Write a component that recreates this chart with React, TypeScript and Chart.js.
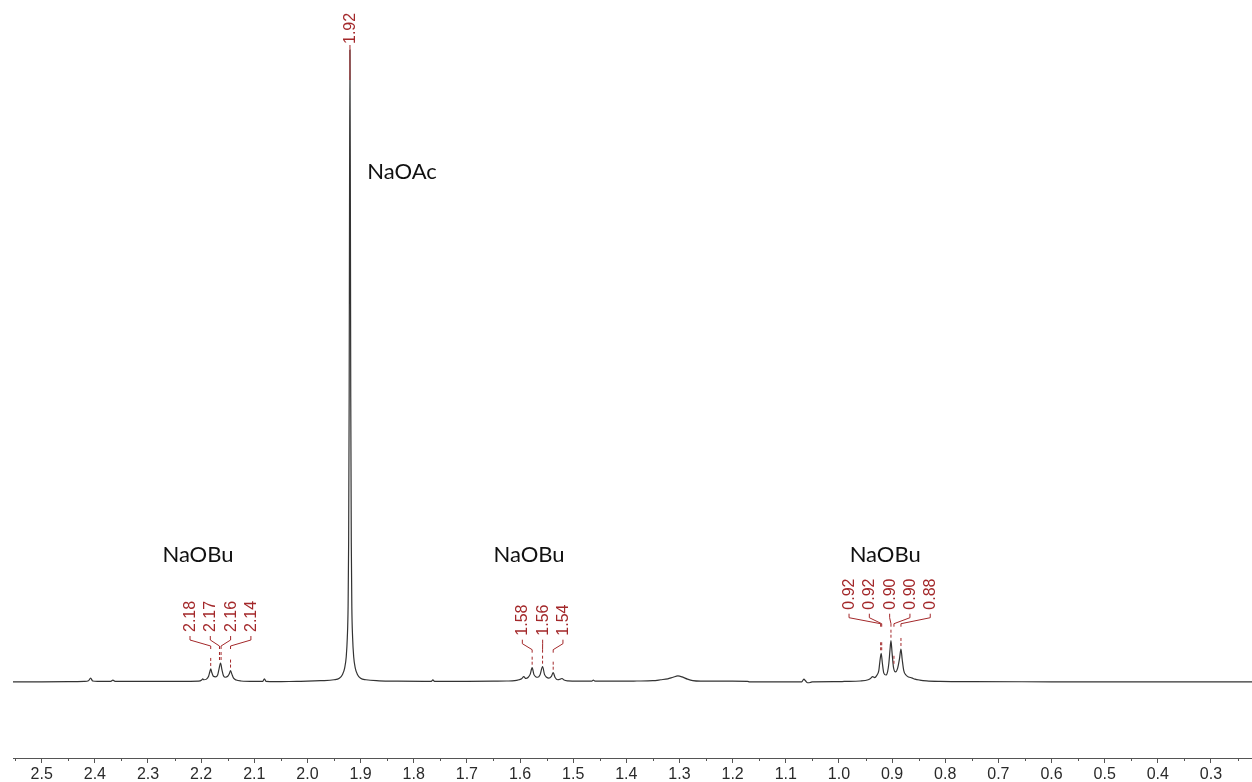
import React, { useEffect, useRef } from "react";
import { Chart, registerables } from "chart.js";

Chart.register(...registerables);

// Chemical shift (ppm) and relative intensity of the 1H NMR trace (main peak = 100)
const SHIFT_PPM = [
  2.56, 2.5, 2.45, 2.42, 2.412, 2.408, 2.404, 2.395, 2.37, 2.366, 2.362, 2.3, 2.25, 2.22,
  2.205, 2.199, 2.197, 2.195, 2.19, 2.186, 2.184, 2.182, 2.18, 2.177, 2.173, 2.169, 2.1665, 2.1635,
  2.161, 2.158, 2.154, 2.15, 2.147, 2.1447, 2.142, 2.139, 2.134, 2.125, 2.1, 2.084, 2.081, 2.078,
  2.06, 2.02, 2.0, 1.975,
  1.95, 1.94, 1.934, 1.93, 1.927, 1.925, 1.9235, 1.9225, 1.9215, 1.9208, 1.92, 1.9192, 1.9185,
  1.9175, 1.9165, 1.915, 1.913, 1.91, 1.906, 1.9, 1.89, 1.865, 1.83, 1.78, 1.767, 1.764, 1.761,
  1.7, 1.65, 1.625,
  1.61, 1.602, 1.597, 1.593, 1.589, 1.585, 1.581, 1.5772, 1.574, 1.57, 1.567, 1.5625, 1.5576,
  1.554, 1.55, 1.546, 1.541, 1.5376, 1.534, 1.529, 1.524, 1.521, 1.517, 1.51, 1.49, 1.465, 1.462,
  1.459, 1.42, 1.38,
  1.35, 1.335, 1.322, 1.312, 1.303, 1.295, 1.285, 1.275, 1.26, 1.2, 1.172, 1.168, 1.12, 1.07,
  1.066, 1.063, 1.059, 1.054, 1.05, 1.0, 0.99, 0.96,
  0.945, 0.94, 0.9366, 0.933, 0.929, 0.925, 0.923, 0.9205, 0.9183, 0.9155, 0.9115, 0.9085, 0.906,
  0.904, 0.9021, 0.9, 0.8975, 0.8935, 0.8895, 0.886, 0.8833, 0.881, 0.878, 0.874, 0.869, 0.863,
  0.857, 0.848, 0.835, 0.81, 0.75, 0.6, 0.4, 0.22,
];
const INTENSITY = [
  0.0, 0.02, 0.05, 0.1, 0.2, 0.6, 0.15, 0.08, 0.1, 0.3, 0.1, 0.08, 0.1, 0.1,
  0.12, 0.3, 0.5, 0.35, 0.45, 0.9, 1.5, 2.06, 1.5, 0.9, 0.8, 1.1, 2.0, 3.0,
  2.0, 1.0, 0.75, 0.9, 1.3, 1.8, 1.2, 0.6, 0.3, 0.15, 0.08, 0.1, 0.5, 0.1,
  0.05, 0.1, 0.12, 0.2,
  0.35, 0.6, 1.2, 2.2, 4, 7, 12, 22, 45, 75, 100, 75, 45,
  22, 12, 7, 4, 2.2, 1.2, 0.6, 0.35, 0.18, 0.12, 0.1, 0.1, 0.35, 0.1,
  0.1, 0.12, 0.15,
  0.2, 0.35, 0.5, 0.85, 0.55, 0.7, 1.2, 2.26, 1.2, 0.8, 0.75, 1.1, 2.42,
  1.2, 0.75, 0.6, 0.9, 1.47, 0.7, 0.35, 0.45, 0.55, 0.3, 0.18, 0.12, 0.12, 0.3,
  0.12, 0.12, 0.15,
  0.2, 0.35, 0.5, 0.75, 0.95, 0.8, 0.45, 0.2, 0.12, 0.12, 0.1, 0.0, 0.0, 0.02,
  0.45, 0.2, -0.12, -0.08, 0.02, 0.05, 0.08, 0.15,
  0.35, 0.6, 0.85, 0.7, 1.0, 1.8, 3.2, 4.54, 3.0, 1.4, 1.1, 1.6, 3.0,
  5.0, 6.53, 4.6, 2.4, 1.6, 2.2, 3.7, 5.22, 3.6, 1.8, 1.1, 0.8, 0.65,
  0.45, 0.3, 0.18, 0.1, 0.05, 0.03, 0.02, 0.0,
];

// Peak picks (ppm), one list per multiplet
const PICKS_NAOBU_1 = [2.182, 2.1655, 2.1625, 2.1447];
const PICKS_NAOAC = [1.92];
const PICKS_NAOBU_2 = [1.5772, 1.5576, 1.5376];
const PICKS_NAOBU_3 = [0.9215, 0.9195, 0.9021, 0.8965, 0.8833];

// Compound annotations: text, anchor shift (ppm), anchor intensity
const COMPOUND_TEXT = ["NaOBu", "NaOAc", "NaOBu", "NaOBu"];
const COMPOUND_PPM = [2.206, 1.822, 1.583, 0.913];
const COMPOUND_INT = [20.1, 80.7, 20.1, 20.1];

// Axis ticks (ppm)
const MAJOR_TICKS = [2.5, 2.4, 2.3, 2.2, 2.1, 2.0, 1.9, 1.8, 1.7, 1.6, 1.5, 1.4, 1.3, 1.2, 1.1, 1.0, 0.9, 0.8, 0.7, 0.6, 0.5, 0.4, 0.3];
const MINOR_TICKS = [2.55, 2.45, 2.35, 2.25, 2.15, 2.05, 1.95, 1.85, 1.75, 1.65, 1.55, 1.45, 1.35, 1.25, 1.15, 1.05, 0.95, 0.85, 0.75, 0.65, 0.55, 0.45, 0.35, 0.25];

const X_MIN = 0.2228;
const X_MAX = 2.554;
const Y_MIN = -12.03;
const Y_MAX = 107.91;

const RED = "#a3282a";

function peakTop(ppm: number): number {
  let best = -Infinity;
  for (let i = 0; i < SHIFT_PPM.length; i++) {
    if (Math.abs(SHIFT_PPM[i] - ppm) <= 0.0026 && INTENSITY[i] > best) best = INTENSITY[i];
  }
  if (best === -Infinity) best = 0;
  return best;
}

const annotationPlugin = {
  id: "nmrAnnotations",
  afterDatasetsDraw(chart: any) {
    const { ctx, scales } = chart;
    const xs = scales.x;
    const ys = scales.y;
    const area = chart.chartArea;
    ctx.save();
    // minor ticks
    ctx.strokeStyle = "#555";
    ctx.lineWidth = 1;
    MINOR_TICKS.forEach((v) => {
      const px = Math.round(xs.getPixelForValue(v)) + 0.5;
      ctx.beginPath();
      ctx.moveTo(px, area.bottom);
      ctx.lineTo(px, area.bottom + 3);
      ctx.stroke();
    });

    // peak picks
    const groups = [PICKS_NAOBU_1, PICKS_NAOAC, PICKS_NAOBU_2, PICKS_NAOBU_3];
    ctx.font = '16px "Liberation Sans", Arial, sans-serif';
    ctx.fillStyle = RED;
    ctx.strokeStyle = RED;
    groups.forEach((picks) => {
      const pxs = picks.map((p) => xs.getPixelForValue(p));
      const tops = picks.map((p) => ys.getPixelForValue(peakTop(p)));
      const minTop = Math.min(...tops);
      const n = picks.length;
      const center = pxs.reduce((a, b) => a + b, 0) / n;
      const spacing = 20.3;
      if (n === 1) {
        const yb = tops[0] - 5;
        const lx = pxs[0];
        ctx.save();
        ctx.translate(lx + 0.5, yb - 1);
        ctx.rotate(-Math.PI / 2);
        ctx.textAlign = "left";
        ctx.textBaseline = "middle";
        ctx.fillText(picks[0].toFixed(2), 0, 0);
        ctx.restore();
        ctx.lineWidth = 1;
        ctx.beginPath();
        ctx.moveTo(lx, yb);
        ctx.lineTo(lx, tops[0] + 30);
        ctx.stroke();
        return;
      }
      const yb = minTop - 31;
      picks.forEach((p, i) => {
        const lx = center + (i - (n - 1) / 2) * spacing;
        const px = pxs[i];
        ctx.save();
        ctx.translate(lx + 0.5, yb);
        ctx.rotate(-Math.PI / 2);
        ctx.textAlign = "left";
        ctx.textBaseline = "middle";
        ctx.fillText(p.toFixed(2), 0, 0);
        ctx.restore();
        ctx.lineWidth = 1;
        ctx.setLineDash([]);
        ctx.beginPath();
        ctx.moveTo(lx, yb + 4);
        ctx.lineTo(lx, yb + 8);
        ctx.lineTo(px, yb + 14);
        ctx.lineTo(px, yb + 17);
        ctx.stroke();
        ctx.setLineDash([3, 2]);
        ctx.lineWidth = 1;
        ctx.beginPath();
        ctx.moveTo(px, Math.max(yb + 20, tops[i] - 11));
        ctx.lineTo(px, tops[i] - 2);
        ctx.stroke();
        ctx.setLineDash([]);
      });
    });

    // compound labels
    ctx.fillStyle = "#111";
    ctx.font = '22px Lato, "Open Sans", sans-serif';
    ctx.textAlign = "center";
    ctx.textBaseline = "middle";
    COMPOUND_TEXT.forEach((t, i) => {
      ctx.fillText(t, xs.getPixelForValue(COMPOUND_PPM[i]), ys.getPixelForValue(COMPOUND_INT[i]));
    });
    ctx.restore();
  },
};

export default function App() {
  const canvasRef = useRef<HTMLCanvasElement | null>(null);
  useEffect(() => {
    const canvas = canvasRef.current;
    if (!canvas) return;
    const data = SHIFT_PPM.map((x, i) => ({ x, y: INTENSITY[i] }));
    const chart = new Chart(canvas, {
      type: "line",
      data: {
        datasets: [
          {
            data,
            borderColor: "#333333",
            borderWidth: 1.2,
            pointRadius: 0,
            cubicInterpolationMode: "monotone",
            fill: false,
          },
        ],
      },
      options: {
        animation: false,
        responsive: false,
        maintainAspectRatio: false,
        layout: { padding: { left: 13, right: 0, top: 0, bottom: 0 } },
        plugins: { legend: { display: false }, tooltip: { enabled: false }, title: { display: false } },
        scales: {
          x: {
            type: "linear",
            reverse: true,
            min: X_MIN,
            max: X_MAX,
            afterBuildTicks: (scale: any) => {
              scale.ticks = MAJOR_TICKS.map((v) => ({ value: v }));
            },
            afterFit: (scale: any) => {
              scale.height = 24;
            },
            ticks: {
              autoSkip: false,
              maxRotation: 0,
              padding: 2,
              color: "#2a2a2a",
              font: { family: '"Liberation Sans", Arial, sans-serif', size: 16 },
              callback: (v: any) => Number(v).toFixed(1),
            },
            grid: { display: true, drawOnChartArea: false, drawTicks: true, tickLength: 5, tickColor: "#555" },
            border: { display: true, color: "#555", width: 1 },
          },
          y: {
            display: false,
            min: Y_MIN,
            max: Y_MAX,
          },
        },
      },
      plugins: [annotationPlugin],
    });
    return () => chart.destroy();
  }, []);
  return (
    <div style={{ position: "absolute", left: 0, top: 0, width: 1252, height: 782, background: "#fff" }}>
      <canvas ref={canvasRef} width={1252} height={782} style={{ display: "block" }} />
    </div>
  );
}
